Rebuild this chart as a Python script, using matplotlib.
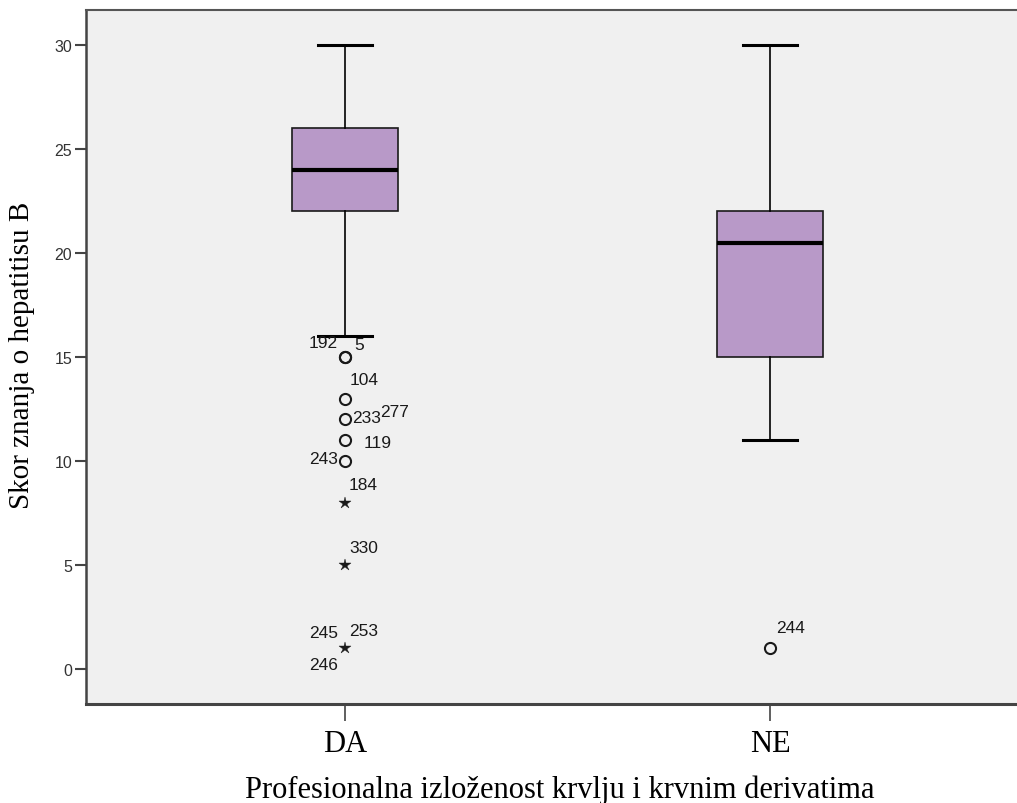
import matplotlib
matplotlib.use("Agg")
import matplotlib.pyplot as plt

# ---- data ----
categories = ["DA", "NE"]
whisker_low = [16, 11]
q1 = [22, 15]
median = [24, 20.5]
q3 = [26, 22]
whisker_high = [30, 30]

# outliers (circles) and extremes (stars)
out_cat = [0, 0, 0, 0, 0, 0, 1]
out_val = [15, 13, 12, 11, 10, 15, 1]
ext_cat = [0, 0, 0]
ext_val = [8, 5, 1]

# case-number labels: (category index, value, text)
lab_cat = [0, 0, 0, 0, 0, 0, 0, 0, 0, 0, 0, 0, 1]
lab_val = [15, 15, 13, 12, 12, 11, 10, 8, 5, 1, 1, 1, 1]
lab_txt = ["192", "5", "104", "233", "277", "119", "243", "184", "330", "245", "253", "246", "244"]
# label placements (pixel offsets, alignment) - style only
lab_dx = [-7, 9, 5, 7, 35, 19, -7, 4, 4, -7, 4, -7, 6]
lab_dy = [15, 13, 19, 2, 8, -2, 3, 18, 18, 16, 18, -16, 21]
lab_ha = ["right", "left", "left", "left", "left", "left", "right", "left", "left", "right", "left", "right", "left"]

y_ticks = [0, 5, 10, 15, 20, 25, 30]

fig = plt.figure(figsize=(10.17, 8.04), dpi=100)
ax = fig.add_axes([86 / 1017, 1 - 705 / 804, 1 - 86 / 1017, (705 - 11) / 804])
ax.set_facecolor("#F0F0F0")

positions = [i + 1 for i in range(len(categories))]
stats = []
for i in range(len(categories)):
    stats.append(dict(whislo=whisker_low[i], q1=q1[i], med=median[i], q3=q3[i],
                      whishi=whisker_high[i], fliers=[], label=categories[i]))

ax.bxp(stats, positions=positions, widths=0.25, capwidths=0.127, patch_artist=True,
       showfliers=False,
       boxprops=dict(facecolor="#B899C8", edgecolor="#1a1a1a", linewidth=1.2),
       medianprops=dict(color="black", linewidth=3),
       whiskerprops=dict(color="black", linewidth=1.2),
       capprops=dict(color="black", linewidth=2.2))

ax.plot([positions[c] for c in out_cat], out_val, linestyle="none", marker="o",
        markersize=8, markerfacecolor="none", markeredgecolor="#1a1a1a", markeredgewidth=1.5)
ax.plot([positions[c] for c in ext_cat], ext_val, linestyle="none", marker="*",
        markersize=9, markerfacecolor="#1a1a1a", markeredgecolor="#1a1a1a", markeredgewidth=0.3)

for c, v, t, dx, dy, ha in zip(lab_cat, lab_val, lab_txt, lab_dx, lab_dy, lab_ha):
    ax.annotate(t, xy=(positions[c], v), xytext=(dx, dy), textcoords="offset pixels",
                ha=ha, va="center", fontsize=12.5, family="Liberation Sans", color="#1a1a1a")

ax.set_xlim(1 - 259 / 425, 2 + 247 / 425)
ax.set_ylim(-1.68, 31.68)
ax.set_yticks(y_ticks)
ax.set_yticklabels([str(t) for t in y_ticks], family="Liberation Sans", fontsize=11.5, color="#333333")
ax.set_xticks(positions)
ax.set_xticklabels(categories, family="Liberation Serif", fontsize=22, color="black")
ax.tick_params(axis="y", length=8, width=1.5, color="#444444", pad=2)
ax.tick_params(axis="x", length=12, width=1.2, color="#444444", pad=6)

ax.spines["right"].set_visible(False)
ax.spines["left"].set_color("#444444")
ax.spines["left"].set_linewidth(1.8)
ax.spines["bottom"].set_color("#444444")
ax.spines["bottom"].set_linewidth(2.2)
ax.spines["top"].set_color("#555555")
ax.spines["top"].set_linewidth(1.5)

ax.set_ylabel("Skor znanja o hepatitisu B", family="Liberation Serif", fontsize=21)
ax.yaxis.label.set_va("center")
ax.yaxis.set_label_coords((22 - 86) / 931, (705 - 355) / 694)
ax.set_xlabel("Profesionalna izloženost krvlju i krvnim derivatima", family="Liberation Serif",
              fontsize=22)
ax.xaxis.label.set_va("center")
ax.xaxis.set_label_coords((560 - 86) / 931, (705 - 790) / 694)

fig.savefig("out.png", dpi=100)
